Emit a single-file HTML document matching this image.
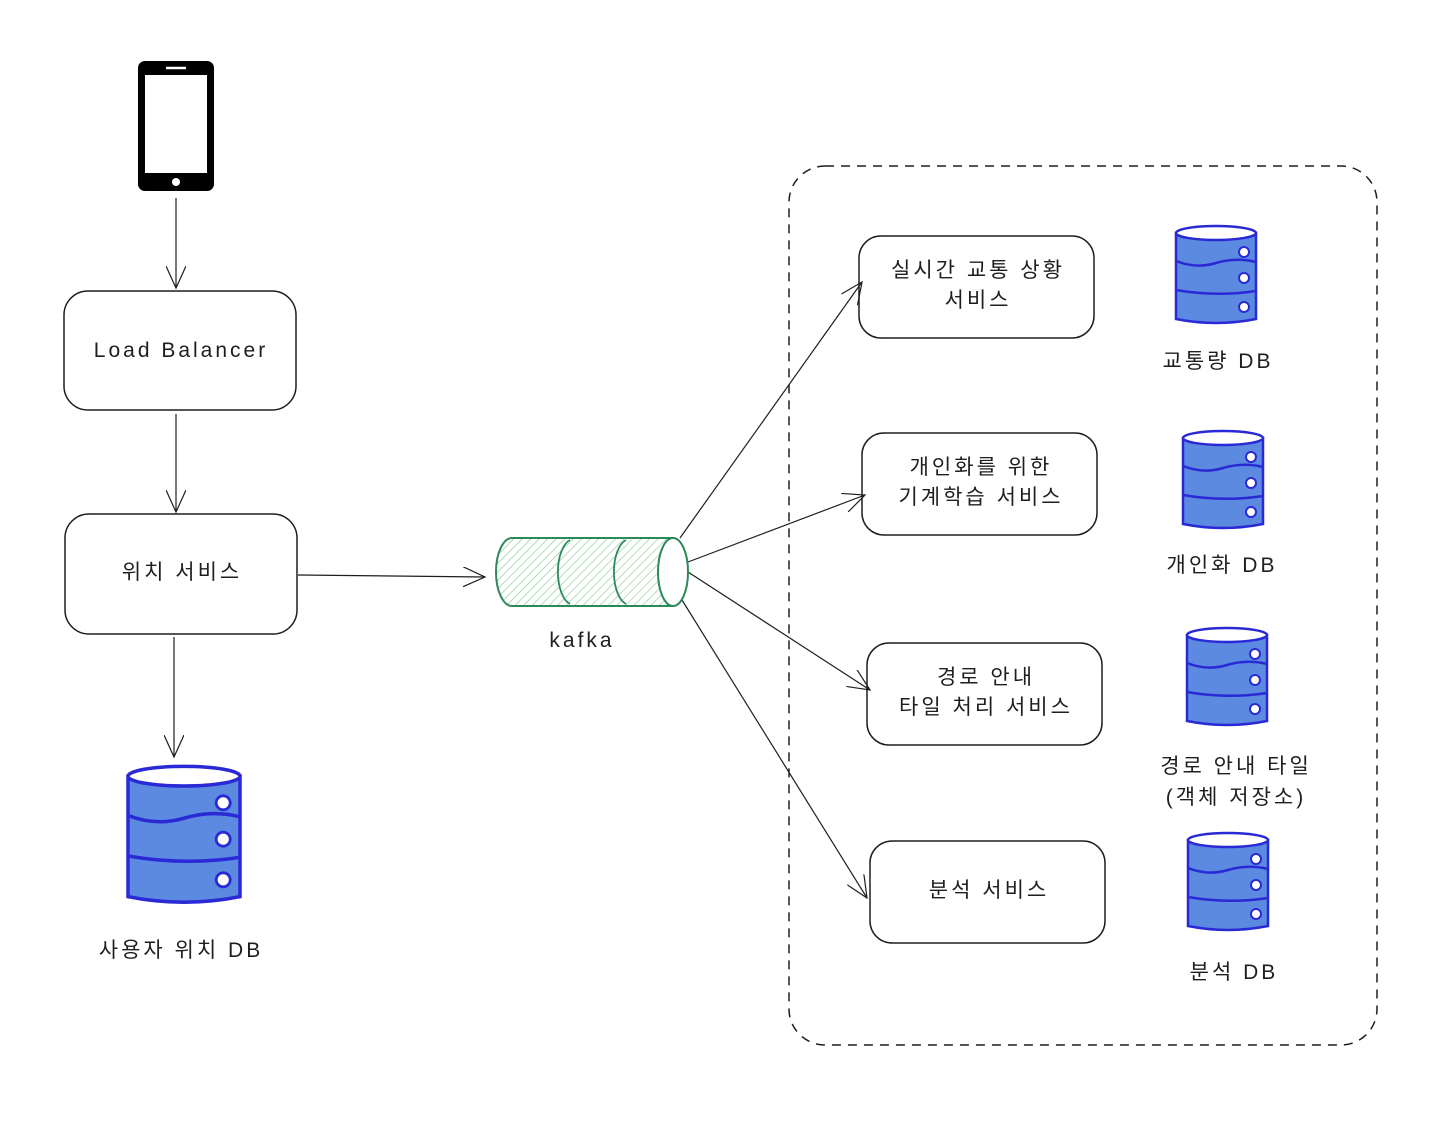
<!DOCTYPE html>
<html><head><meta charset="utf-8"><style>
html,body{margin:0;padding:0;background:#fff}
svg text{font-family:"Liberation Sans","Noto Sans CJK KR","NanumGothic",sans-serif;font-size:21px;letter-spacing:3px;fill:#1e1e1e;text-anchor:middle}
</style></head><body>
<svg width="1436" height="1128" viewBox="0 0 1436 1128" xmlns="http://www.w3.org/2000/svg">
<defs>
<pattern id="h" width="6" height="6" patternUnits="userSpaceOnUse" patternTransform="rotate(45)">
<line x1="0" y1="0" x2="0" y2="6" stroke="#2f9e44" stroke-width="1.2" opacity="0.6"/></pattern>
<marker id="a" markerWidth="24" markerHeight="20" refX="22" refY="10" orient="auto" markerUnits="userSpaceOnUse">
<path d="M0,0 L22,10 L0,20" fill="none" stroke="#1e1e1e" stroke-width="1.2"/></marker>
<g id="db">
<path d="M0,8 L0,94 Q40,102 80,94 L80,8 Z" fill="#5b8ae0" stroke="#2929d6" stroke-width="2.5"/>
<ellipse cx="40" cy="8" rx="40" ry="7" fill="#fff" stroke="#2929d6" stroke-width="2.5"/>
<path d="M0,36 Q20,44 40,38 Q60,32 80,37" fill="none" stroke="#2929d6" stroke-width="2.5"/>
<path d="M0,65 Q40,72 80,66" fill="none" stroke="#2929d6" stroke-width="2.5"/>
<circle cx="68" cy="27" r="5" fill="#fff" stroke="#2929d6" stroke-width="2"/>
<circle cx="68" cy="53" r="5" fill="#fff" stroke="#2929d6" stroke-width="2"/>
<circle cx="68" cy="82" r="5" fill="#fff" stroke="#2929d6" stroke-width="2"/>
</g>
</defs>
<rect x="138" y="61" width="76" height="130" rx="7" fill="#000"/>
<rect x="145" y="75" width="62" height="98" fill="#fff"/>
<line x1="166" y1="68" x2="186" y2="68" stroke="#fff" stroke-width="2.5"/>
<circle cx="176" cy="182" r="4" fill="#fff"/>
<rect x="789" y="166" width="588" height="879" rx="36" fill="none" stroke="#1e1e1e" stroke-width="1.5" stroke-dasharray="9 7"/>
<g fill="none" stroke="#1e1e1e" stroke-width="1.5">
<rect x="64" y="291" width="232" height="119" rx="24"/>
<rect x="65" y="514" width="232" height="120" rx="24"/>
<rect x="859" y="236" width="235" height="102" rx="22"/>
<rect x="862" y="433" width="235" height="102" rx="22"/>
<rect x="867" y="643" width="235" height="102" rx="22"/>
<rect x="870" y="841" width="235" height="102" rx="22"/>
</g>
<g stroke="#1e1e1e" stroke-width="1.2" fill="none" marker-end="url(#a)">
<line x1="176" y1="198" x2="176" y2="288"/>
<line x1="176" y1="414" x2="176" y2="512"/>
<line x1="298" y1="575" x2="485" y2="577"/>
<line x1="174" y1="637" x2="174" y2="757"/>
<line x1="680" y1="538" x2="862" y2="282"/>
<line x1="688" y1="562" x2="865" y2="495"/>
<line x1="688" y1="572" x2="870" y2="690"/>
<line x1="682" y1="600" x2="867" y2="898"/>
</g>
<path d="M512,538 L673,538 L673,606 L512,606 A16,34 0 0 1 512,538 Z" fill="url(#h)" stroke="#2b8a57" stroke-width="2"/>
<path d="M570,540 A16,33 0 0 0 570,604" fill="none" stroke="#2b8a57" stroke-width="1.8"/>
<path d="M626,540 A16,33 0 0 0 626,604" fill="none" stroke="#2b8a57" stroke-width="1.8"/>
<ellipse cx="673" cy="572" rx="15" ry="34" fill="#fff" stroke="#2b8a57" stroke-width="2"/>
<text x="582" y="647">kafka</text>
<use href="#db" x="1176" y="225"/>
<use href="#db" x="1183" y="430"/>
<use href="#db" x="1187" y="627"/>
<use href="#db" x="1188" y="832"/>
<use href="#db" transform="translate(128,765) scale(1.4)"/>
<text x="181" y="357">Load Balancer</text>
<text x="182" y="579">위치 서비스</text>
<text x="181" y="957">사용자 위치 DB</text>
<text x="978" y="277">실시간 교통 상황</text>
<text x="978" y="307">서비스</text>
<text x="981" y="474">개인화를 위한</text>
<text x="981" y="504">기계학습 서비스</text>
<text x="986" y="684">경로 안내</text>
<text x="986" y="714">타일 처리 서비스</text>
<text x="989" y="897">분석 서비스</text>
<text x="1218" y="368">교통량 DB</text>
<text x="1222" y="572">개인화 DB</text>
<text x="1236" y="773">경로 안내 타일</text>
<text x="1236" y="804">(객체 저장소)</text>
<text x="1234" y="979">분석 DB</text>
</svg>
</body></html>
